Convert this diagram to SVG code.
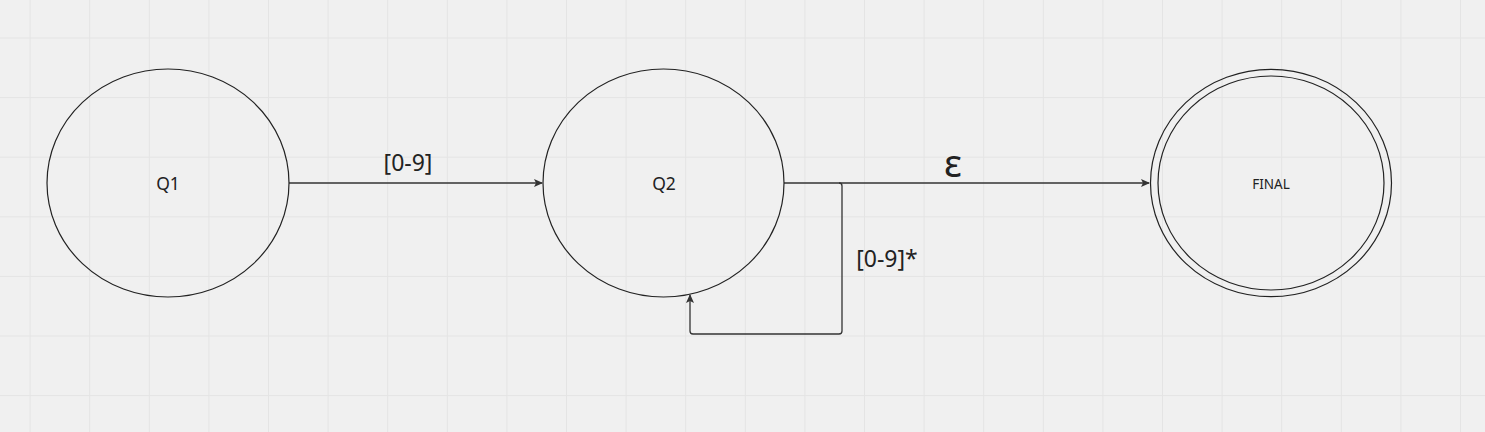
<svg xmlns="http://www.w3.org/2000/svg" width="1485" height="432" viewBox="0 0 1485 432">
<defs>
<pattern id="grid" x="29.6" y="37.5" width="59.6" height="59.6" patternUnits="userSpaceOnUse">
<path d="M0.5 0V59.6M0 0.5H59.6" fill="none" stroke="#e4e4e4" stroke-width="1"/>
</pattern>
<marker id="arr" markerWidth="10" markerHeight="10" refX="8" refY="5" orient="auto" markerUnits="userSpaceOnUse">
<path d="M0 1L9 5L0 9L2 5Z" fill="#333"/>
</marker>
<style>
.st{fill:none;stroke:#222;stroke-width:1.2}
.cn{fill:none;stroke:#333;stroke-width:1.3}
.t{font-family:"Noto Sans","Open Sans",sans-serif;fill:#222;text-anchor:middle}
</style>
</defs>
<rect width="1485" height="432" fill="#f0f0f0"/>
<rect width="1485" height="432" fill="url(#grid)"/>
<g id="connectors">
<path class="cn" d="M289 183H542" marker-end="url(#arr)"/>
<path class="cn" d="M784 183H1149" marker-end="url(#arr)"/>
<path class="cn" d="M839 183Q842 183 842 186V331Q842 334 839 334H693Q690 334 690 331V295" marker-end="url(#arr)"/>
<text class="t" x="408" y="171" font-size="23">[0-9]</text>
<text class="t" x="953" y="177" font-size="38">ε</text>
<text class="t" x="887" y="267" font-size="23">[0-9]*</text>
</g>
<g id="q1">
<ellipse class="st" cx="168" cy="183" rx="121" ry="114"/>
<text class="t" x="168" y="190" font-size="17.5">Q1</text>
</g>
<g id="q2">
<ellipse class="st" cx="663.5" cy="183" rx="120.5" ry="114"/>
<text class="t" x="664" y="190" font-size="17.5">Q2</text>
</g>
<g id="final">
<ellipse class="st" cx="1271" cy="183" rx="120.5" ry="113.7"/>
<ellipse class="st" cx="1271" cy="183" rx="113" ry="107"/>
<text class="t" x="1271" y="189" font-size="13.5">FINAL</text>
</g>
</svg>
